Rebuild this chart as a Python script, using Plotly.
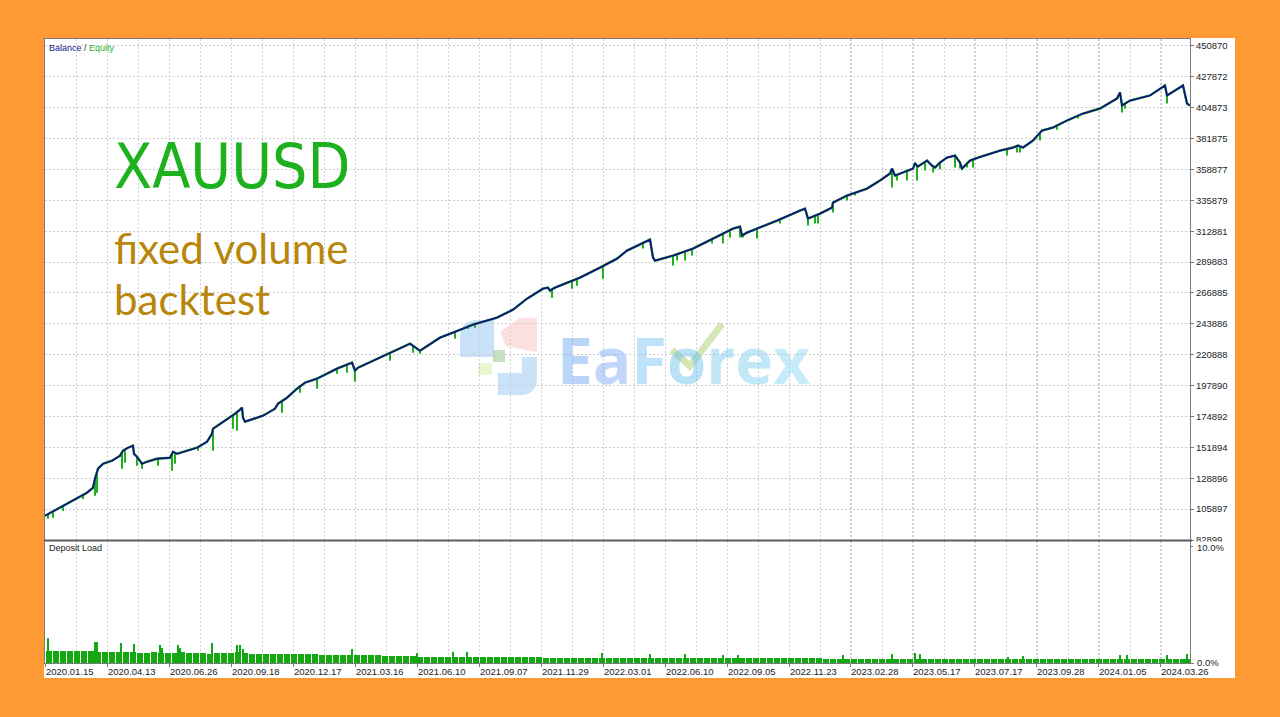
import numpy as np
import plotly.graph_objects as go

# ---------------- data ----------------
# deal index (x) and balance values
BAL_X = [0, 15, 28, 42, 48, 50, 53, 58, 67, 75, 78, 83, 88, 89, 92, 97, 102, 112, 125, 128,
         132, 138, 152, 162, 167, 168, 177, 190, 195, 197, 198, 200, 218, 230, 233, 242, 252,
         260, 272, 292, 307, 308, 310, 313, 335, 348, 365, 368, 375, 378, 395, 408, 428, 452,
         468, 482, 498, 503, 505, 510, 535, 555, 572, 582, 605, 608, 610, 628, 648, 668, 688,
         695, 697, 702, 712, 732, 755, 760, 763, 775, 787, 788, 802, 822, 835, 845, 847, 850,
         868, 870, 873, 882, 887, 890, 895, 902, 910, 915, 917, 925, 933, 955, 968, 973, 978,
         988, 997, 1008, 1022, 1038, 1055, 1072, 1075, 1077, 1085, 1105, 1117, 1120, 1122,
         1138, 1142, 1145]
BAL_V = [100933, 106894, 112111, 118072, 121798, 128505, 135957, 139683, 141919, 145645,
         149371, 151606, 153097, 147135, 144900, 139683, 141174, 143409, 144154, 148626,
         147135, 148626, 151606, 156078, 162039, 165765, 170236, 176943, 179924, 181414,
         173962, 170982, 175453, 180669, 184395, 188866, 195573, 200044, 203025, 210477,
         214948, 212713, 208987, 211222, 218674, 223146, 229107, 227617, 223891, 225381,
         233578, 237304, 243266, 248482, 254444, 262641, 270093, 270838, 268603, 270838,
         278290, 285742, 292449, 298411, 306608, 293194, 290959, 294685, 299901, 307353,
         314805, 316295, 309589, 311824, 314805, 320767, 328219, 329709, 322257, 325983,
         330454, 334180, 339397, 344613, 350575, 355791, 359517, 354300, 359517, 363243,
         361008, 365479, 361753, 360262, 363988, 367714, 369205, 363988, 359517, 365479,
         367714, 372931, 375166, 376656, 375166, 380383, 387835, 390070, 395287, 400503,
         404229, 411681, 416152, 406464, 410191, 413917, 419878, 421369, 413917, 421369,
         407955, 406464]

# equity drawdown spikes: deal index and lowest equity value
EQ_X = [3, 8, 18, 38, 50, 52, 77, 80, 92, 97, 113, 127, 130, 153, 168, 188, 192, 237, 255,
        272, 292, 302, 310, 345, 368, 375, 410, 423, 430, 507, 527, 532, 558, 598, 628, 632,
        640, 647, 667, 678, 685, 695, 698, 712, 735, 763, 770, 773, 788, 802, 810, 847, 852,
        862, 872, 880, 888, 895, 910, 915, 922, 928, 962, 972, 975, 995, 1012, 1033, 1077,
        1080, 1122]
EQ_V = [98697, 99442, 104500, 113500, 115837, 118072, 135957, 140428, 138193, 135957, 138193,
        134467, 139683, 149371, 149371, 165765, 164275, 177688, 192592, 195573, 206751,
        207496, 200790, 216439, 222400, 221655, 232833, 240285, 241030, 263386, 270093,
        272329, 277545, 299901, 287233, 290959, 290959, 294685, 303627, 303627, 308098,
        308098, 308098, 307353, 318531, 317041, 318531, 318531, 326728, 335671, 339397,
        345358, 350575, 350575, 350575, 358027, 356536, 359000, 360262, 359517, 360262,
        360262, 369205, 371440, 371440, 380383, 388500, 396779, 401248, 404229, 407955]

# deposit load (%) per block of 7 deals, plus short spikes
LOAD_V = [1.05, 1.05, 1.0, 1.0, 1.0, 1.0, 1.0,
          0.95, 0.95, 0.95, 0.9, 0.9, 0.9,
          0.85, 0.85, 0.9, 0.85, 0.85, 0.85, 0.9, 0.85, 0.85, 0.85, 0.8, 0.85, 0.85, 0.85,
          0.9, 0.85,
          0.75, 0.75, 0.75, 0.75, 0.75, 0.75, 0.75, 0.75, 0.75, 0.75, 0.7, 0.7, 0.7, 0.7, 0.7,
          0.65, 0.65, 0.65, 0.65, 0.6, 0.6, 0.6, 0.6, 0.6,
          0.55, 0.55, 0.55, 0.55, 0.55, 0.55, 0.5, 0.55, 0.5, 0.5, 0.5, 0.55, 0.5, 0.5, 0.5,
          0.5, 0.5, 0.5,
          0.45, 0.45, 0.45, 0.45, 0.45, 0.45, 0.45, 0.45, 0.45, 0.45, 0.42, 0.42, 0.42, 0.42,
          0.45, 0.45, 0.42, 0.42, 0.42, 0.42, 0.42, 0.42, 0.45, 0.42, 0.42, 0.42, 0.42, 0.42,
          0.42, 0.42, 0.42, 0.42, 0.42, 0.42, 0.42, 0.42, 0.42, 0.42, 0.42, 0.42,
          0.35, 0.35, 0.35, 0.35, 0.35, 0.35, 0.35, 0.35, 0.35, 0.35, 0.35, 0.35, 0.35, 0.35,
          0.35, 0.35, 0.35, 0.35, 0.35, 0.35, 0.35, 0.35, 0.35, 0.35, 0.35, 0.35, 0.35, 0.35,
          0.35, 0.35, 0.35, 0.35, 0.35, 0.35, 0.35, 0.35, 0.35, 0.35, 0.35, 0.35, 0.35, 0.35,
          0.35, 0.35, 0.35, 0.35, 0.35, 0.35, 0.35, 0.35, 0.35, 0.35, 0.35]
LOAD_SPIKE_X = [3, 50, 52, 76, 89, 115, 117, 133, 135, 167, 192, 195, 198, 307, 372, 408,
                422, 557, 605, 640, 678, 693, 798, 847, 870, 875, 963, 978, 1075, 1082,
                1122, 1142]
LOAD_SPIKE_V = [2.1, 1.8, 1.8, 1.7, 1.6, 1.5, 1.3, 1.5, 1.3, 1.7, 1.55, 1.5, 1.2, 1.2, 0.85,
                0.95, 0.9, 0.85, 0.75, 0.75, 0.7, 0.7, 0.7, 0.75, 0.85, 0.75, 0.55, 0.6, 0.7,
                0.65, 0.7, 0.75]

Y_TICKS = [82899, 105897, 128896, 151894, 174892, 197890, 220888, 243886, 266885, 289883,
           312881, 335879, 358877, 381875, 404873, 427872, 450870]
DATE_TICKS = [0, 62, 124, 186, 248, 310, 372, 434, 496, 558, 620, 682, 744, 805, 867, 929,
              991, 1053, 1115]
DATE_LABELS = ["2020.01.15", "2020.04.13", "2020.06.26", "2020.09.18", "2020.12.17",
               "2021.03.16", "2021.06.10", "2021.09.07", "2021.11.29", "2022.03.01",
               "2022.06.10", "2022.09.05", "2022.11.23", "2023.02.28", "2023.05.17",
               "2023.07.17", "2023.09.28", "2024.01.05", "2024.03.26"]
LOAD_TICKS = [0, 10]
LOAD_LABELS = ["0.0%", "10.0%"]

# ---------------- styling ----------------
ORANGE = "#FE9A33"
NAVY = "#12157F"
EQ_GREEN = "#1FB01F"
LOAD_GREEN = "#12A812"
GRID = "#cfcfcf"
AXLINE = "#7a7a7a"
TXT = "#222222"
FONT = "Liberation Sans, Arial, sans-serif"

W, H = 1280, 717
PL, PR, PT, PB = 45, 1190, 39, 663
SEP = 540


def fx(p):
    return (p - PL) / (PR - PL)


def fy(p):
    return (PB - p) / (PB - PT)


X_MAX = PR - PL
BLOCK = 7

fig = go.Figure()

# equity line (under balance)
fig.add_trace(go.Scatter(x=BAL_X, y=BAL_V, mode="lines", xaxis="x2", yaxis="y",
                         line=dict(color=EQ_GREEN, width=2.4), hoverinfo="skip"))
# equity spikes
sx, sy = [], []
tops = np.interp(EQ_X, BAL_X, BAL_V)
for x, lo, top in zip(EQ_X, EQ_V, tops):
    sx += [x, x, None]
    sy += [top, lo, None]
fig.add_trace(go.Scatter(x=sx, y=sy, mode="lines", xaxis="x2", yaxis="y",
                         line=dict(color=EQ_GREEN, width=2), hoverinfo="skip"))
# balance
fig.add_trace(go.Scatter(x=BAL_X, y=BAL_V, mode="lines", xaxis="x2", yaxis="y",
                         line=dict(color=NAVY, width=1.8), hoverinfo="skip"))

# deposit load bars
load_x = [BLOCK * i + BLOCK / 2 for i in range(len(LOAD_V))]
fig.add_trace(go.Bar(x=load_x, y=LOAD_V, width=BLOCK - 1, xaxis="x", yaxis="y2",
                     marker=dict(color=LOAD_GREEN, line=dict(width=0)), hoverinfo="skip"))
fig.add_trace(go.Bar(x=LOAD_SPIKE_X, y=LOAD_SPIKE_V, width=2, xaxis="x", yaxis="y2",
                     marker=dict(color=LOAD_GREEN, line=dict(width=0)), hoverinfo="skip"))

grid_common = dict(showgrid=True, gridcolor=GRID, griddash="2px,2px", gridwidth=1,
                   zeroline=False, showline=True, linecolor=AXLINE, linewidth=1, mirror=True)
minor = dict(dtick=31, tick0=0, showgrid=True, gridcolor=GRID, griddash="2px,2px", ticks="")

fig.update_layout(
    width=W, height=H,
    paper_bgcolor=ORANGE, plot_bgcolor="rgba(0,0,0,0)",
    margin=dict(l=PL, r=W - PR, t=PT, b=H - PB),
    showlegend=False, barmode="overlay", bargap=0,
    xaxis=dict(domain=[0, 1], anchor="y2", range=[0, X_MAX], tickmode="array",
               tickvals=DATE_TICKS, ticktext=DATE_LABELS, ticklabelposition="outside right",
               ticks="outside", ticklen=3, tickcolor=AXLINE,
               tickfont=dict(family=FONT, size=9.5, color=TXT), minor=minor, **grid_common),
    xaxis2=dict(domain=[0, 1], anchor="y", matches="x", tickmode="array",
                tickvals=DATE_TICKS, showticklabels=False, ticks="", minor=minor,
                **grid_common),
    yaxis=dict(domain=[fy(SEP), 1], anchor="x2", side="right", range=[82899, 456000],
               tickmode="array", tickvals=Y_TICKS, ticktext=[str(v) for v in Y_TICKS],
               ticks="outside", ticklen=3, tickcolor=AXLINE,
               tickfont=dict(family=FONT, size=9.5, color=TXT), **grid_common),
    yaxis2=dict(domain=[0, fy(SEP + 1)], anchor="x", side="right", range=[0, 10.43],
                tickmode="array", tickvals=LOAD_TICKS, showticklabels=False,
                ticks="outside", ticklen=3, tickcolor=AXLINE,
                showgrid=False, zeroline=False, showline=True, linecolor=AXLINE,
                linewidth=1, mirror=True),
)

shapes = [
    # white chart panel
    dict(type="rect", xref="paper", yref="paper", layer="below",
         x0=fx(44), x1=fx(1235), y0=fy(678), y1=fy(38),
         fillcolor="white", line=dict(width=0)),
    # watermark logo pieces
    dict(type="path", xref="paper", yref="paper", layer="below",
         path=f"M {fx(494)} {fy(320)} L {fx(478)} {fy(320)} Q {fx(460)} {fy(320)} {fx(460)} {fy(338)} "
              f"L {fx(460)} {fy(357)} L {fx(494)} {fy(357)} Z",
         fillcolor="rgba(120,180,240,0.40)", line=dict(width=0)),
    dict(type="path", xref="paper", yref="paper", layer="below",
         path=f"M {fx(500)} {fy(332)} L {fx(520)} {fy(318)} L {fx(537)} {fy(318)} "
              f"L {fx(537)} {fy(352)} L {fx(506)} {fy(346)} Z",
         fillcolor="rgba(245,150,150,0.30)", line=dict(width=0)),
    dict(type="rect", xref="paper", yref="paper", layer="below",
         x0=fx(493), x1=fx(505), y0=fy(362), y1=fy(350),
         fillcolor="rgba(110,175,100,0.40)", line=dict(width=0)),
    dict(type="rect", xref="paper", yref="paper", layer="below",
         x0=fx(478), x1=fx(492), y0=fy(375), y1=fy(363),
         fillcolor="rgba(205,230,140,0.40)", line=dict(width=0)),
    dict(type="path", xref="paper", yref="paper", layer="below",
         path=f"M {fx(522)} {fy(357)} L {fx(537)} {fy(357)} L {fx(537)} {fy(378)} "
              f"Q {fx(537)} {fy(395)} {fx(520)} {fy(395)} L {fx(498)} {fy(395)} "
              f"L {fx(498)} {fy(373)} L {fx(522)} {fy(373)} Z",
         fillcolor="rgba(120,180,240,0.40)", line=dict(width=0)),
    dict(type="path", xref="paper", yref="paper", layer="below",
         path=f"M {fx(672)} {fy(350)} L {fx(690)} {fy(366)} L {fx(722)} {fy(324)}",
         line=dict(color="rgba(175,210,120,0.55)", width=7)),
    # thick separator between panels
    dict(type="line", xref="paper", yref="paper", layer="above",
         x0=fx(44), x1=fx(1192), y0=fy(SEP + 0.5), y1=fy(SEP + 0.5),
         line=dict(color="#5c5c5c", width=2)),
    # hide lower half of the bottom balance label
    dict(type="rect", xref="paper", yref="paper", layer="above",
         x0=fx(1193), x1=fx(1234), y0=fy(553), y1=fy(541.5),
         fillcolor="white", line=dict(width=0)),
]
fig.update_layout(shapes=shapes)

wm_cols = ["rgba(100,165,240,0.45)", "rgba(115,165,245,0.45)", "rgba(110,190,240,0.45)",
           "rgba(100,190,235,0.45)", "rgba(120,200,240,0.45)", "rgba(120,205,240,0.45)",
           "rgba(130,210,240,0.45)"]
wm_text = "".join(f'<span style="color:{c}">{ch}</span>' for ch, c in zip("EaForex", wm_cols))

annotations = [
    dict(text=f'<span style="color:{NAVY}">Balance</span> / '
              f'<span style="color:{EQ_GREEN}">Equity</span>',
         xref="paper", yref="paper", x=fx(47), y=fy(48), xanchor="left", yanchor="middle",
         showarrow=False, font=dict(family=FONT, size=9, color="#333")),
    dict(text="Deposit Load", xref="paper", yref="paper", x=fx(47), y=fy(548),
         xanchor="left", yanchor="middle", showarrow=False,
         font=dict(family=FONT, size=9, color=TXT)),
    dict(text=LOAD_LABELS[1], xref="paper", yref="paper", x=fx(1195), y=fy(547),
         xanchor="left", yanchor="middle", showarrow=False,
         font=dict(family=FONT, size=9.5, color=TXT)),
    dict(text=LOAD_LABELS[0], xref="paper", yref="paper", x=fx(1195), y=fy(662),
         xanchor="left", yanchor="middle", showarrow=False,
         font=dict(family=FONT, size=9.5, color=TXT)),
    dict(text="XAUUSD", xref="paper", yref="paper", x=fx(112), y=fy(166),
         xanchor="left", yanchor="middle", showarrow=False,
         font=dict(family="Liberation Sans Narrow, Arial Narrow, DejaVu Sans Condensed, sans-serif",
                   size=62, color="#1DB11D")),
    dict(text="fixed volume", xref="paper", yref="paper", x=fx(112), y=fy(248),
         xanchor="left", yanchor="middle", showarrow=False,
         font=dict(family="Lato, Open Sans, sans-serif", size=42, color="#B8860B")),
    dict(text="backtest", xref="paper", yref="paper", x=fx(112), y=fy(299),
         xanchor="left", yanchor="middle", showarrow=False,
         font=dict(family="Lato, Open Sans, sans-serif", size=42, color="#B8860B")),
    dict(text=wm_text, xref="paper", yref="paper", x=fx(555), y=fy(359),
         xanchor="left", yanchor="middle", showarrow=False,
         font=dict(family="Open Sans, sans-serif", size=64, weight="bold")),
]
fig.update_layout(annotations=annotations)

fig.write_html("out.html",
               config={"displayModeBar": False},
               post_script="document.body.style.margin='0px';"
                           "document.body.style.background='" + ORANGE + "';"
                           "document.body.style.overflow='hidden';")
